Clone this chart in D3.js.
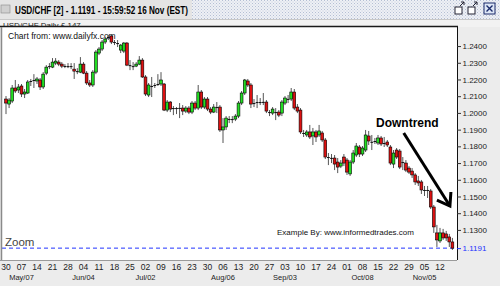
<!DOCTYPE html>
<html>
<head>
<meta charset="utf-8">
<script src="https://cdn.jsdelivr.net/npm/d3@7"></script>
<style>
body { margin: 0; background: #ececec; overflow: hidden; }
svg { display: block; font-family: "Liberation Sans", Arial, sans-serif; }
</style>
</head>
<body>
<div id="chart"></div>
<script>
// daily USD/CHF bars, weekdays from firstDay to lastDay
const firstDay = "2007-04-30", lastDay = "2007-11-16";

const open = [
1.2083,1.2053,1.2071,1.2149,1.2137,1.2161,1.2113,1.2119,1.2185,1.2191,
1.2191,1.2197,1.2155,1.2238,1.2274,1.2274,1.2298,1.2304,1.2292,1.2280,
1.2280,1.2280,1.2262,1.2250,1.2244,1.2292,1.2238,1.2179,1.2167,1.2244,
1.2358,1.2382,1.2424,1.2448,1.2460,1.2424,1.2418,1.2376,1.2370,1.2418,
1.2286,1.2280,1.2280,1.2292,1.2316,1.2215,1.2107,1.2161,1.2167,1.2173,
1.2173,1.2173,1.2017,1.2065,1.2029,1.2029,1.2029,1.2029,1.2011,1.2029,
1.2005,1.2059,1.2029,1.2125,1.2035,1.2083,1.2023,1.2005,1.2035,1.2035,
1.1898,1.1916,1.1963,1.1963,1.1963,1.1981,1.2059,1.2119,1.2191,1.2167,
1.2059,1.2059,1.2065,1.2065,1.2065,1.2005,1.1999,1.2005,1.2005,1.1999,
1.2059,1.2083,1.2083,1.2125,1.2035,1.2017,1.1880,1.1868,1.1886,1.1862,
1.1886,1.1868,1.1880,1.1838,1.1736,1.1730,1.1730,1.1706,1.1682,1.1736,
1.1718,1.1635,1.1706,1.1748,1.1796,1.1754,1.1778,1.1862,1.1826,1.1832,
1.1820,1.1850,1.1820,1.1826,1.1796,1.1694,1.1778,1.1772,1.1706,1.1700,
1.1670,1.1652,1.1629,1.1593,1.1587,1.1539,1.1539,1.1533,1.1437,1.1282,
1.1234,1.1282,1.1276,1.1258,1.1228
];
const high = [
1.2101,1.2089,1.2167,1.2197,1.2173,1.2173,1.2143,1.2197,1.2203,1.2232,
1.2215,1.2209,1.2244,1.2286,1.2298,1.2328,1.2328,1.2316,1.2304,1.2292,
1.2298,1.2298,1.2298,1.2268,1.2334,1.2304,1.2250,1.2197,1.2256,1.2376,
1.2394,1.2436,1.2454,1.2466,1.2472,1.2436,1.2436,1.2412,1.2424,1.2424,
1.2316,1.2304,1.2304,1.2340,1.2328,1.2226,1.2179,1.2215,1.2179,1.2232,
1.2244,1.2179,1.2077,1.2071,1.2041,1.2035,1.2059,1.2047,1.2041,1.2041,
1.2071,1.2071,1.2167,1.2137,1.2095,1.2095,1.2035,1.2053,1.2065,1.2047,
1.1969,1.1981,1.1981,1.1981,1.1993,1.2071,1.2131,1.2203,1.2203,1.2179,
1.2083,1.2107,1.2089,1.2119,1.2077,1.2017,1.2035,1.2029,1.2017,1.2077,
1.2101,1.2107,1.2149,1.2143,1.2053,1.2029,1.1898,1.1898,1.1928,1.1910,
1.1898,1.1928,1.1892,1.1850,1.1760,1.1754,1.1748,1.1730,1.1718,1.1754,
1.1730,1.1718,1.1778,1.1820,1.1808,1.1802,1.1898,1.1892,1.1868,1.1850,
1.1868,1.1862,1.1856,1.1838,1.1808,1.1778,1.1790,1.1784,1.1736,1.1718,
1.1682,1.1670,1.1640,1.1623,1.1599,1.1563,1.1563,1.1545,1.1449,1.1330,
1.1312,1.1306,1.1294,1.1276,1.1252
];
const low = [
1.1993,1.2029,1.2059,1.2119,1.2119,1.2095,1.2089,1.2113,1.2161,1.2149,
1.2173,1.2137,1.2143,1.2226,1.2262,1.2268,1.2286,1.2280,1.2268,1.2268,
1.2268,1.2262,1.2203,1.2232,1.2238,1.2232,1.2167,1.2155,1.2155,1.2232,
1.2346,1.2370,1.2412,1.2436,1.2412,1.2406,1.2394,1.2358,1.2358,1.2280,
1.2256,1.2256,1.2274,1.2286,1.2209,1.2101,1.2095,1.2095,1.2149,1.2161,
1.2161,1.2011,1.2005,1.2005,1.1987,1.1993,1.1969,1.1987,1.1999,1.1993,
1.1993,1.2017,1.2017,1.2023,1.2023,1.2011,1.1993,1.1999,1.1999,1.1886,
1.1820,1.1898,1.1939,1.1939,1.1951,1.1969,1.2047,1.2107,1.2155,1.2029,
1.2035,1.2029,1.2047,1.2047,1.1999,1.1981,1.1987,1.1957,1.1975,1.1981,
1.2047,1.2059,1.2071,1.2017,1.1999,1.1874,1.1856,1.1856,1.1844,1.1808,
1.1826,1.1856,1.1826,1.1724,1.1688,1.1700,1.1658,1.1640,1.1670,1.1682,
1.1629,1.1623,1.1694,1.1736,1.1736,1.1742,1.1766,1.1808,1.1778,1.1814,
1.1808,1.1802,1.1796,1.1796,1.1688,1.1670,1.1724,1.1664,1.1658,1.1646,
1.1635,1.1611,1.1569,1.1563,1.1515,1.1503,1.1491,1.1425,1.1282,1.1198,
1.1222,1.1240,1.1234,1.1198,1.1180
];
const close = [
1.2059,1.2077,1.2149,1.2131,1.2155,1.2113,1.2125,1.2185,1.2191,1.2197,
1.2203,1.2155,1.2232,1.2274,1.2280,1.2304,1.2310,1.2292,1.2280,1.2281,
1.2277,1.2274,1.2250,1.2247,1.2292,1.2238,1.2179,1.2167,1.2244,1.2364,
1.2382,1.2424,1.2442,1.2454,1.2424,1.2421,1.2417,1.2406,1.2418,1.2286,
1.2285,1.2279,1.2292,1.2316,1.2215,1.2113,1.2167,1.2160,1.2166,1.2172,
1.2197,1.2017,1.2065,1.2023,1.2028,1.2026,1.2030,1.2011,1.2029,1.2005,
1.2059,1.2029,1.2125,1.2035,1.2083,1.2023,1.2005,1.2035,1.2034,1.1898,
1.1916,1.1969,1.1964,1.1960,1.1981,1.2059,1.2119,1.2197,1.2167,1.2053,
1.2058,1.2065,1.2064,1.2066,1.2011,1.1999,1.2023,1.2004,1.1987,1.2065,
1.2089,1.2084,1.2125,1.2029,1.2011,1.1886,1.1879,1.1886,1.1856,1.1886,
1.1856,1.1892,1.1838,1.1736,1.1730,1.1731,1.1694,1.1676,1.1700,1.1700,
1.1646,1.1706,1.1760,1.1802,1.1754,1.1790,1.1868,1.1832,1.1827,1.1831,
1.1850,1.1814,1.1819,1.1808,1.1700,1.1760,1.1736,1.1676,1.1700,1.1658,
1.1646,1.1629,1.1587,1.1581,1.1539,1.1538,1.1533,1.1437,1.1318,1.1240,
1.1282,1.1252,1.1252,1.1228,1.1191
];

const priceTicks = [1.24, 1.23, 1.22, 1.21, 1.20, 1.19, 1.18, 1.17, 1.16, 1.15, 1.14, 1.13];
const lastPrice = 1.1191;
const monthTicks = ["2007-05-07", "2007-06-04", "2007-07-02", "2007-08-06", "2007-09-03", "2007-10-08", "2007-11-05"];
const monthLabels = ["May/07", "Jun/04", "Jul/02", "Aug/06", "Sep/03", "Oct/08", "Nov/05"];

// annotation arrow, in data space (day index, price)
const arrowFrom = [128.3, 1.1880];
const arrowTo = [143.2, 1.1443];

const W = 500, H = 286;
const plot = {left: 2, top: 27, right: 457, bottom: 260};

const parse = d3.utcParse("%Y-%m-%d");
const days = d3.utcDay.range(parse(firstDay), d3.utcDay.offset(parse(lastDay), 1))
  .filter(d => d.getUTCDay() > 0 && d.getUTCDay() < 6);
const mondays = days.filter(d => d.getUTCDay() === 1);

const bars = days.map((d, i) => ({date: d, o: open[i], h: high[i], l: low[i], c: close[i]}));

const x = d3.scaleBand()
  .domain(days)
  .range([4.45, 4.45 + 3.1 * days.length]);

const y = d3.scaleLinear()
  .domain([1.1126, 1.2514])
  .range([259, 27]);

const cx = d => x(d) + x.bandwidth() / 2;

const svg = d3.select("#chart").append("svg")
  .attr("width", W)
  .attr("height", H);

const defs = svg.append("defs");
const pat = defs.append("pattern")
  .attr("id", "dots")
  .attr("width", 3).attr("height", 3)
  .attr("patternUnits", "userSpaceOnUse");
pat.append("rect").attr("width", 3).attr("height", 3).attr("fill", "#eef0f5");
pat.append("rect").attr("width", 1).attr("height", 1).attr("fill", "#b4bfd4");
pat.append("rect").attr("x", 1.5).attr("y", 1.5).attr("width", 1).attr("height", 1).attr("fill", "#c4cde0");

defs.append("clipPath").attr("id", "clip")
  .append("rect")
  .attr("x", plot.left).attr("y", plot.top)
  .attr("width", plot.right - plot.left).attr("height", plot.bottom - plot.top);

// window background
svg.append("rect").attr("width", W).attr("height", H).attr("fill", "#ececec");

// title bar
svg.append("rect").attr("width", W).attr("height", 19).attr("fill", "url(#dots)");
svg.append("rect").attr("width", 192).attr("height", 19).attr("fill", "#e4e4e4");
svg.append("rect").attr("x", 1).attr("y", 5).attr("width", 9).attr("height", 8)
  .attr("fill", "#d0d0d0").attr("stroke", "#888").attr("stroke-width", 0.6);
svg.append("text")
  .attr("x", 15).attr("y", 14)
  .attr("font-size", 10.5).attr("font-weight", "bold")
  .attr("textLength", 173).attr("lengthAdjust", "spacingAndGlyphs")
  .text("USD/CHF [2] - 1.1191 - 15:59:52  16 Nov (EST)");

// window buttons
[455, 468].forEach(bx => {
  svg.append("rect").attr("x", bx).attr("y", 7).attr("width", 7).attr("height", 7)
    .attr("fill", "#fff").attr("stroke", "#223", "stroke-width").attr("stroke-width", 1);
  svg.append("path").attr("d", `M${bx + 5},${6} l4,-4 M${bx + 6},${2} h3 v3`)
    .attr("stroke", "#223").attr("fill", "none");
});
svg.append("rect").attr("x", 484).attr("y", 3).attr("width", 11).attr("height", 11)
  .attr("fill", "#dde6f6").attr("stroke", "#1a2a6a").attr("stroke-width", 1);
svg.append("path").attr("d", "M486.5,5.5 L492.5,11.5 M492.5,5.5 L486.5,11.5")
  .attr("stroke", "#1a2a6a").attr("stroke-width", 1.4);

// sub-header
svg.append("rect").attr("y", 19).attr("width", W).attr("height", 8).attr("fill", "#f2f2f2");
svg.append("line").attr("x1", 0).attr("x2", W).attr("y1", 19.5).attr("y2", 19.5).attr("stroke", "#c8c8c8");
svg.append("text").attr("x", 3).attr("y", 27.5).attr("font-size", 8).attr("fill", "#222")
  .text("USD/CHF   Daily  \u00a3 147");

// plot area
svg.append("rect")
  .attr("x", plot.left).attr("y", plot.top)
  .attr("width", plot.right - plot.left).attr("height", plot.bottom - plot.top)
  .attr("fill", "#fff");

svg.append("text").attr("x", 8).attr("y", 39).attr("font-size", 8.5).attr("fill", "#111")
  .text("Chart from: www.dailyfx.com");
svg.append("text").attr("x", 277).attr("y", 235).attr("font-size", 8).attr("fill", "#111")
  .text("Example By: www.informedtrades.com");

const g = svg.append("g").attr("clip-path", "url(#clip)");

// last price line
g.append("line")
  .attr("x1", plot.left).attr("x2", plot.right)
  .attr("y1", y(lastPrice)).attr("y2", y(lastPrice))
  .attr("stroke", "#2233ff").attr("stroke-width", 1)
  .attr("stroke-dasharray", "4,3");

g.append("text").attr("x", 5).attr("y", 246).attr("font-size", 11.5).attr("fill", "#444")
  .text("Zoom");

// wicks
g.selectAll(".wick")
  .data(bars)
  .enter().append("line")
  .attr("class", "wick")
  .attr("x1", d => cx(d.date)).attr("x2", d => cx(d.date))
  .attr("y1", d => y(d.h)).attr("y2", d => y(d.l))
  .attr("stroke", "#555").attr("stroke-width", 1);

// bodies
g.selectAll(".body")
  .data(bars)
  .enter().append("rect")
  .attr("class", "body")
  .attr("x", d => cx(d.date) - 1.4)
  .attr("width", 2.8)
  .attr("y", d => y(Math.max(d.o, d.c)))
  .attr("height", d => Math.max(1, Math.abs(y(d.o) - y(d.c))))
  .attr("fill", d => Math.abs(y(d.o) - y(d.c)) < 1.2 ? "#111" : (d.c > d.o ? "#22dd22" : "#dd1111"))
  .attr("stroke", "#000")
  .attr("stroke-width", d => Math.abs(y(d.o) - y(d.c)) < 1.2 ? 0 : 0.6);

// downtrend annotation
const ax0 = x(days[0]) + x.bandwidth() / 2 + arrowFrom[0] * x.step();
const ax1 = x(days[0]) + x.bandwidth() / 2 + arrowTo[0] * x.step();
const ay0 = y(arrowFrom[1]), ay1 = y(arrowTo[1]);
svg.append("text").attr("x", 376).attr("y", 127)
  .attr("font-size", 12).attr("font-weight", "bold")
  .text("Downtrend");
svg.append("line")
  .attr("x1", ax0).attr("y1", ay0).attr("x2", ax1).attr("y2", ay1)
  .attr("stroke", "#000").attr("stroke-width", 3);
svg.append("path")
  .attr("d", `M${ax1 - 13},${ay1 - 6} L${ax1},${ay1} L${ax1 + 1},${ay1 - 14}`)
  .attr("fill", "none").attr("stroke", "#000").attr("stroke-width", 3)
  .attr("stroke-linejoin", "miter");

// borders
svg.append("line").attr("x1", 0).attr("x2", plot.right + 1).attr("y1", 26.5).attr("y2", 26.5)
  .attr("stroke", "#1a1a1a").attr("stroke-width", 1.5);
svg.append("line").attr("x1", 1.5).attr("x2", 1.5).attr("y1", plot.top).attr("y2", plot.bottom)
  .attr("stroke", "#8a8a8a").attr("stroke-width", 1.5);
svg.append("line").attr("x1", 0).attr("x2", plot.right).attr("y1", plot.bottom + 0.5).attr("y2", plot.bottom + 0.5)
  .attr("stroke", "#9a9a9a").attr("stroke-width", 1);

// price axis
const yAxis = svg.append("g")
  .attr("transform", `translate(${plot.right},0)`)
  .call(d3.axisRight(y)
    .tickValues(priceTicks.concat([lastPrice]))
    .tickFormat(d3.format(".4f"))
    .tickSize(4).tickSizeOuter(0).tickPadding(1.5));
yAxis.select(".domain").attr("stroke", "#111").attr("d", `M0.5,${plot.top}V${plot.bottom}`);
yAxis.selectAll("text")
  .attr("font-size", 8).attr("font-family", "Liberation Sans, Arial, sans-serif")
  .attr("fill", d => d === lastPrice ? "#2233ff" : "#222");
yAxis.selectAll("line").attr("stroke", d => d === lastPrice ? "#2233ff" : "#333");

// date axis: week days and month labels
const dayAxis = svg.append("g")
  .attr("transform", `translate(0,${plot.bottom})`)
  .call(d3.axisBottom(x)
    .tickValues(mondays)
    .tickFormat(d3.utcFormat("%d"))
    .tickSize(0).tickPadding(4));
dayAxis.select(".domain").remove();
dayAxis.selectAll("text").attr("font-size", 8.5)
  .attr("font-family", "Liberation Sans, Arial, sans-serif").attr("fill", "#222");

const monthDates = monthTicks.map(parse);
const monthAxis = svg.append("g")
  .attr("transform", `translate(0,${plot.bottom})`)
  .call(d3.axisBottom(x)
    .tickValues(monthDates)
    .tickFormat((d, i) => monthLabels[i])
    .tickSize(0).tickPadding(15));
monthAxis.select(".domain").remove();
monthAxis.selectAll("text").attr("font-size", 7.5)
  .attr("font-family", "Liberation Sans, Arial, sans-serif").attr("fill", "#222");
</script>
</body>
</html>
